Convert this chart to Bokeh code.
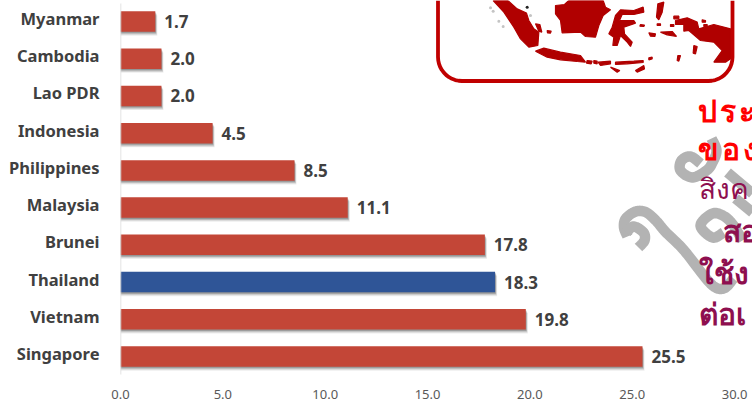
from bokeh.core.properties import value
from bokeh.embed import file_html
from bokeh.models import ColumnDataSource, FixedTicker, LinearAxis, NumeralTickFormatter, Range1d
from bokeh.plotting import figure
from bokeh.resources import INLINE
import numpy as np

# Bottom-to-top order on the category axis
countries = ["Singapore", "Vietnam", "Thailand", "Brunei", "Malaysia",
             "Philippines", "Indonesia", "Lao PDR", "Cambodia", "Myanmar"]
values = [25.5, 19.8, 18.3, 17.8, 11.1, 8.5, 4.5, 2.0, 2.0, 1.7]
highlight = "Thailand"
x_ticks = [0, 5, 10, 15, 20, 25, 30]

RED = "#c34637"
BLUE = "#2f5597"
FONT = "Noto Sans"
GREY = "#b3b3b3"

# Thai caption lines: text, left, baseline, size, colour, style
caption = [
    ("ป\u200aร\u200aะ", 697, 110, 30, "#ff0000", "bold"),
    ("ข\u200aอ\u200aง", 697, 148, 30, "#ff0000", "bold"),
    ("สิงค", 698, 187, 28, "#8e0f4f", "normal"),
    ("สอ", 722, 230, 30, "#8e0f4f", "bold"),
    ("ใช้ง", 698, 272, 30, "#8e0f4f", "bold"),
    ("ต่อเ", 698, 313, 30, "#8e0f4f", "bold"),
]

# Background numeral strokes, page pixels
strokes = [
    [(733,278),(723,288),(710,283),(683.7,250),(665.3,231.7),(655.3,220),(645.3,211.7),(635.3,211),(625.3,218),(623.5,227),(627,236)],
    [(626,232),(633,226),(643,232),(644,240),(638,247)],
    [(711,138),(716,150),(712,162),(706,170),(692,177),(680,170),(681,160),(690,156),(700,163)],
    [(727,172),(752,193)],
    [(735,198),(752,212)],
    [(723,232),(712,237),(700,225),(712,213),(724,216),(733,225),(742,240)],
]

# Map decoration, outlines in page pixels (scaled by three)
islands = [
    [(218,0),(262,0),(290,25),(318,38),(325,60),(340,85),(355,95),(352,135),(325,140),(300,115),(280,80),(250,35)],
    [(345,70),(358,72),(364,95),(355,92)],
    [(380,90),(392,92),(390,98),(381,97)],
    [(405,15),(432,12),(445,0),(548,0),(555,20),(570,28),(548,45),(535,75),(525,110),(495,108),(480,95),(425,97),(420,60),(405,40)],
    [(575,80),(585,45),(600,28),(640,30),(668,20),(670,35),(640,42),(605,42),(597,60),(640,60),(645,68),(610,80),(612,100),(635,125),(630,138),(620,125),(600,105),(590,135),(577,135),(580,110),(565,100)],
    [(345,152),(370,143),(420,155),(480,165),(495,185),(470,183),(420,178),(380,170)],
    [(585,185),(640,182),(668,180),(668,186),(620,190),(585,192)],
    [(570,200),(598,210),(590,215)],
    [(645,210),(670,195),(672,205),(650,215)],
    [(533,185),(570,182),(570,190),(540,195)],
    [(500,180),(515,182),(512,190),(498,188)],
    [(520,180),(530,182),(530,190),(520,188)],
    [(712,10),(730,5),(725,35),(715,58),(708,50)],
    [(660,72),(672,74),(670,78),(658,77)],
    [(685,97),(705,100),(703,108),(690,107)],
    [(720,95),(755,93),(768,108),(740,103)],
    [(710,70),(720,70),(720,75),(710,75)],
    [(750,72),(760,72),(760,78),(750,78)],
    [(765,60),(800,52),(830,65),(835,85),(880,72),(930,85),(930,175),(915,185),(880,185),(905,150),(880,125),(840,120),(805,90),(790,92),(790,72),(765,72)],
    [(760,47),(775,47),(775,55),(760,55)],
    [(845,58),(855,60),(855,65),(845,65)],
    [(850,72),(860,72),(860,78),(850,78)],
    [(820,135),(830,138),(825,160),(818,158)],
    [(772,165),(780,165),(775,182),(770,180)],
    [(685,172),(695,170),(695,175),(685,178)],
]
specks = [(210,22),(218,32),(235,62),(248,78),(330,45)]


def smooth(points, steps=8):
    """Catmull-Rom path through the given stroke vertices."""
    pts = np.array(points, dtype=float)
    if len(pts) < 3:
        return pts[:, 0], pts[:, 1]
    padded = np.vstack([pts[0], pts, pts[-1]])
    out = []
    for i in range(1, len(padded) - 2):
        a, b, c, d = padded[i - 1:i + 3]
        for t in np.linspace(0, 1, steps, endpoint=False):
            out.append(0.5 * (2 * b + (c - a) * t + (2 * a - 5 * b + 4 * c - d) * t ** 2
                              + (3 * b - a - 3 * c + d) * t ** 3))
    out.append(pts[-1])
    out = np.array(out)
    return out[:, 0], out[:, 1]


p = figure(width=752, height=401, frame_height=377, frame_width=632,
           output_backend="svg", toolbar_location=None,
           x_range=Range1d(0, 632 / 20.47),
           y_range=Range1d(-21 / 37.22, 9 + 21 / 37.22),
           min_border_left=120, min_border_right=0, min_border_top=0, min_border_bottom=0,
           outline_line_color=None, x_axis_location=None, y_axis_location=None)
p.grid.visible = False
p.background_fill_color = "white"
p.border_fill_color = "white"

# Page-pixel scales for the decorative layer
p.extra_x_ranges["page"] = Range1d(120, 752)
p.extra_y_ranges["page"] = Range1d(377, 0)
# Category labels sit slightly above their bars
p.extra_y_ranges["labels"] = Range1d(-21 / 37.22 - 0.08, 9 + 21 / 37.22 - 0.08)

ys = np.arange(len(countries))
vals = np.array(values)
source = ColumnDataSource(dict(y=ys, right=vals, name=countries,
                               label=[f"{v:.1f}" for v in values],
                               color=[BLUE if c == highlight else RED for c in countries]))

PAGE = dict(x_range_name="page", y_range_name="page")

# Background strokes sit under everything else
for stroke in strokes:
    sx, sy = smooth(stroke)
    p.line(sx, sy, line_color=GREY, line_width=10.5, line_join="round", **PAGE)

# Soft drop shadow under the bars
for grow, drop, alpha in [(0.10, 0.105, 0.07), (0.075, 0.08, 0.10), (0.05, 0.055, 0.14), (0.025, 0.03, 0.18)]:
    p.hbar(y=ys - drop, right=vals + grow, left=0, height=0.55, color="#000000",
           alpha=alpha, line_color=None)
p.hbar(y="y", right="right", left=0, height=0.55, source=source,
       fill_color="color", line_color=None)
p.text(x="right", y="y", text="label", source=source, x_offset=9,
       text_font=value(FONT), text_font_style="bold", text_font_size="17px",
       text_color="#404040", text_baseline="middle")

# Axis rule
p.line(x=[120, 120], y=[3, 374], line_color="#d9d9d9", line_width=1.5, **PAGE)

# Map frame and islands
to_page = lambda pts: ([420 + a / 3 for a, b in pts], [b / 3 for a, b in pts])
xs_m, ys_m = zip(*[to_page(i) for i in islands])
p.patches(list(xs_m), list(ys_m), fill_color="#b00000", line_color="#b00000", line_width=1.2, **PAGE)
sp_x, sp_y = to_page(specks)
p.scatter(sp_x, sp_y, size=3, color="#c4c4c4", line_color=None, **PAGE)
p.scatter([420 + 320 / 3], [20 / 3], size=3, color="#222222", line_color=None, **PAGE)
corner = np.linspace(0, np.pi / 2, 12)
r = 24
L, R, B = 437.5, 732, 80.5
fx = [L] + list(L + r - r * np.cos(corner)) + list(R - r + r * np.sin(corner)) + [R]
fy = [0] + list(B - r + r * np.sin(corner)) + list(B - r + r * np.cos(corner)) + [0]
p.line(fx, fy, line_color="#c00000", line_width=3.8, **PAGE)

xa = LinearAxis(ticker=FixedTicker(ticks=x_ticks), axis_line_color=None,
                major_tick_line_color=None, minor_tick_line_color=None,
                major_label_text_color="#595959", major_label_text_font=FONT,
                major_label_text_font_size="13px", major_label_standoff=6,
                formatter=NumeralTickFormatter(format="0.0"))
p.add_layout(xa, "below")

ya = LinearAxis(y_range_name="labels", ticker=FixedTicker(ticks=list(range(len(countries)))),
                major_label_overrides={i: c for i, c in enumerate(countries)},
                axis_line_color=None, major_tick_line_color=None, minor_tick_line_color=None,
                major_label_text_color="#404040", major_label_text_font=FONT,
                major_label_text_font_style="bold", major_label_text_font_size="16.5px",
                major_label_standoff=15)
p.add_layout(ya, "left")

# Caption lines
for text, left, base, size, color, style in caption:
    p.text(x=[left], y=[base], text=[text], text_font=value(FONT), text_font_size=f"{size}px",
           text_font_style=style, text_color=color, text_baseline="alphabetic", **PAGE)

open("out.html", "w").write(file_html(p, INLINE))
